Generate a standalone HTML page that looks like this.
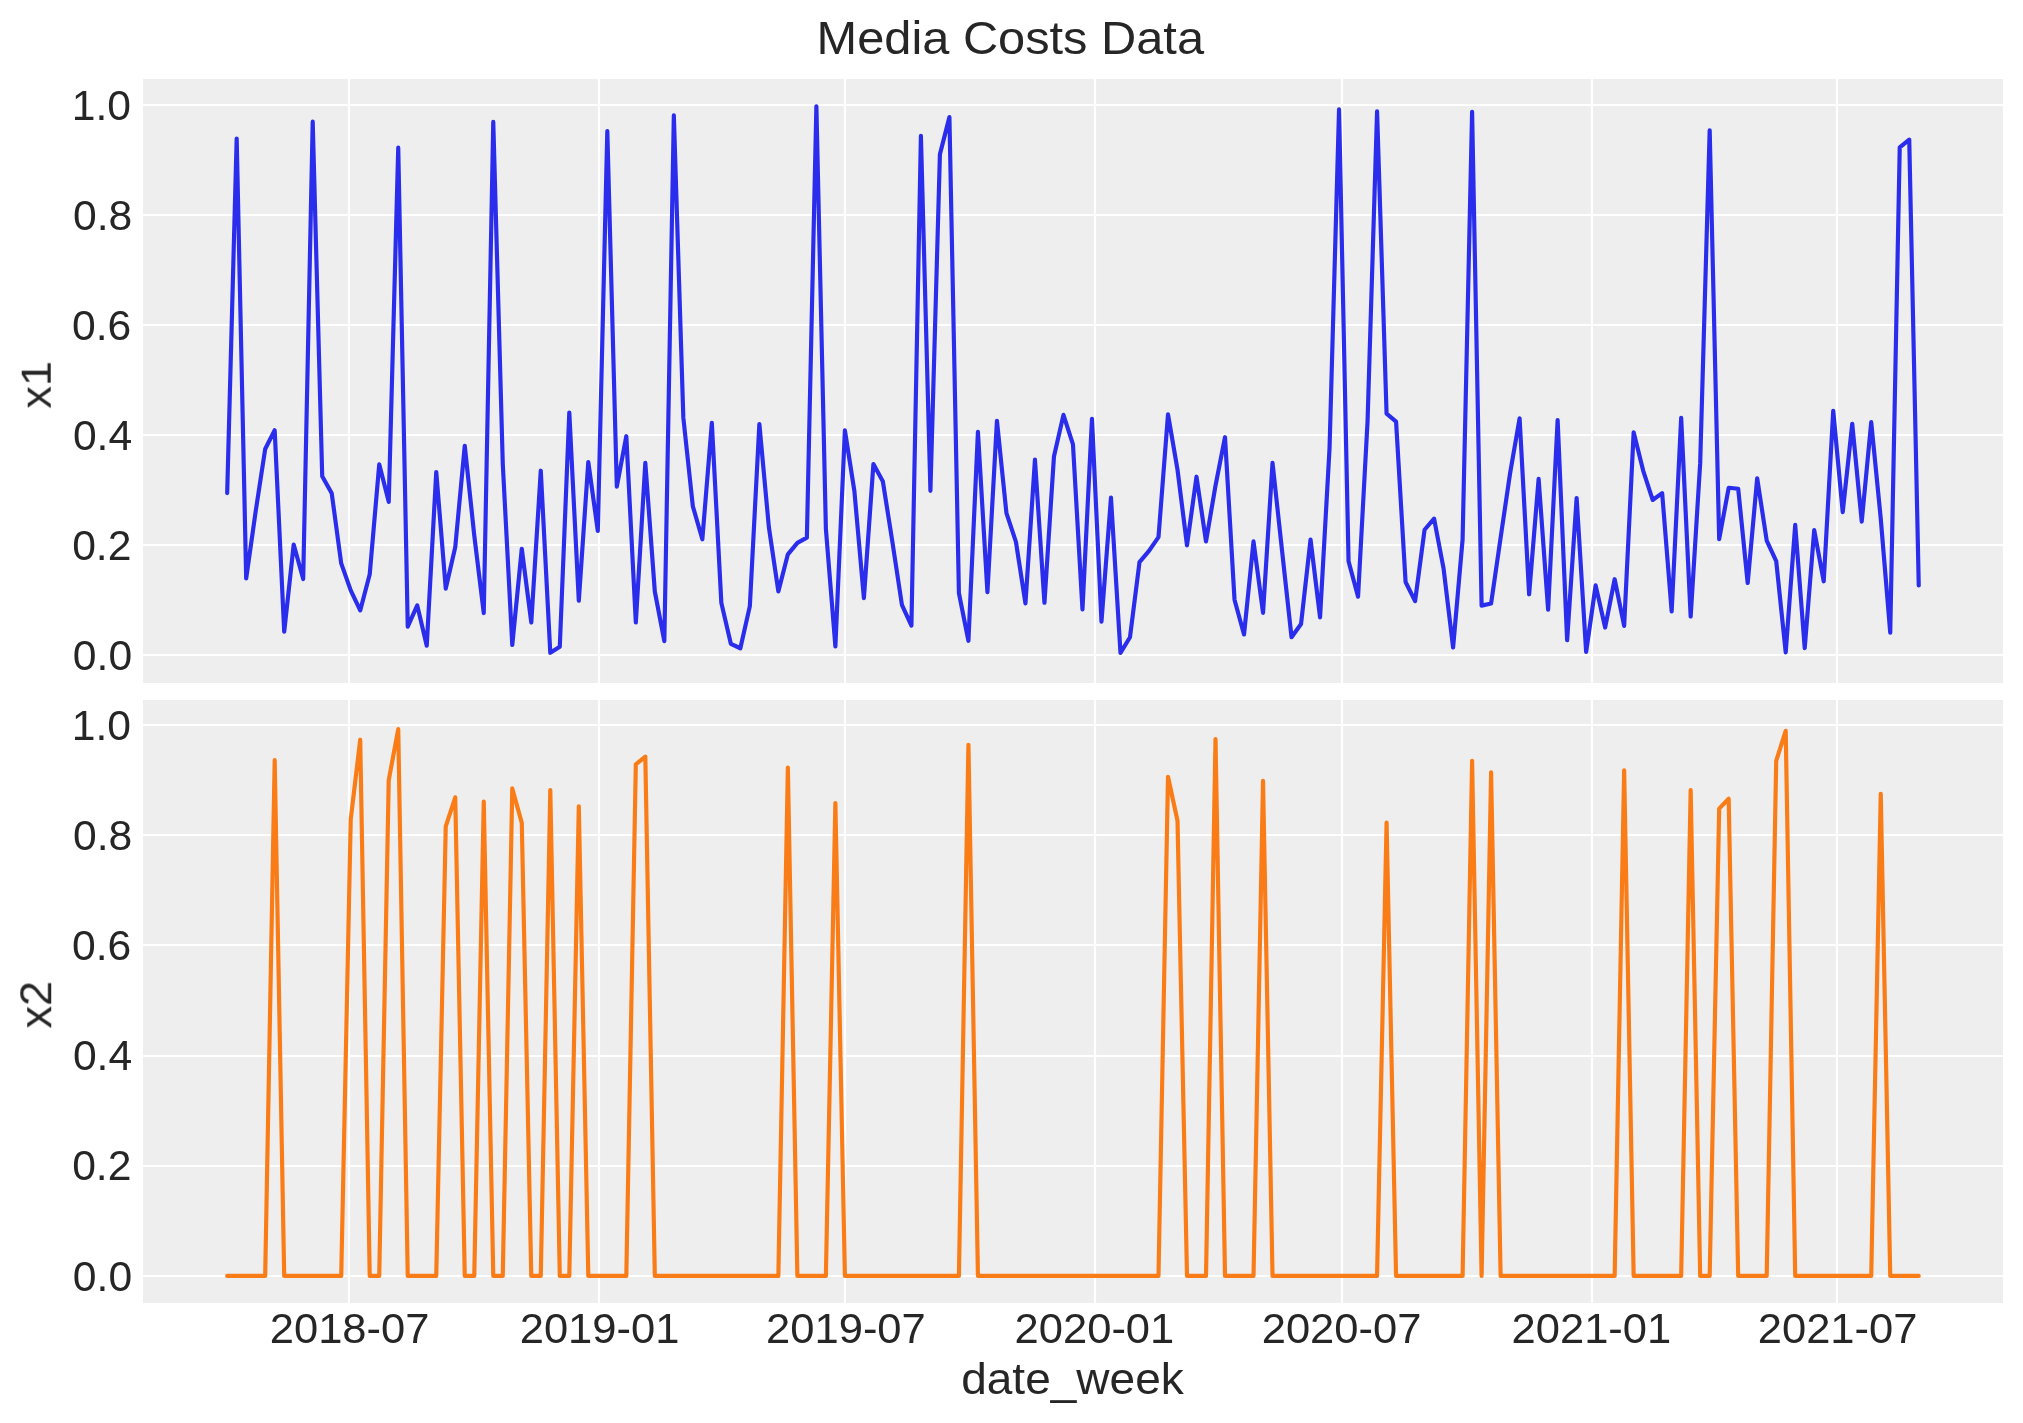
<!DOCTYPE html>
<html><head><meta charset="utf-8"><title>Media Costs Data</title>
<style>html,body{margin:0;padding:0;background:#fff;}svg{display:block;}text{font-family:"Liberation Sans",sans-serif;fill:#262626;}g.t{filter:grayscale(1);}</style>
</head><body>
<svg width="2023" height="1423" viewBox="0 0 2023 1423">
<rect x="0" y="0" width="2023" height="1423" fill="#ffffff"/>
<rect x="143" y="79" width="1860" height="604" fill="#eeeeee"/>
<rect x="143" y="700" width="1860" height="603" fill="#eeeeee"/>
<path d="M143 655H2003M143 545H2003M143 435H2003M143 325H2003M143 215H2003M143 105H2003M349 79V683M599 79V683M845 79V683M1095 79V683M1342 79V683M1592 79V683M1837 79V683M143 1276H2003M143 1166H2003M143 1056H2003M143 945H2003M143 835H2003M143 725H2003M349 700V1303M599 700V1303M845 700V1303M1095 700V1303M1342 700V1303M1592 700V1303M1837 700V1303" stroke="#ffffff" stroke-width="2.222" fill="none"/>
<polyline points="227.18,493.05 236.68,138.57 246.18,578.44 255.69,511.25 265.19,449.02 274.69,430.29 284.20,631.67 293.70,544.50 303.20,579.05 312.71,121.70 322.21,476.25 331.71,493.17 341.22,563.41 350.72,590.38 360.22,610.44 369.73,574.21 379.23,464.35 388.73,501.86 398.24,147.69 407.74,626.67 417.24,605.36 426.75,645.73 436.25,471.98 445.75,588.58 455.26,547.14 464.76,445.73 474.26,535.43 483.76,613.03 493.27,121.94 502.77,463.76 512.27,645.03 521.78,548.73 531.28,622.54 540.78,470.71 550.29,652.79 559.79,646.75 569.29,412.46 578.80,600.74 588.30,461.98 597.80,531.00 607.31,131.18 616.81,486.58 626.31,436.20 635.82,622.51 645.32,462.94 654.82,591.51 664.33,641.16 673.83,115.43 683.33,417.63 692.84,506.29 702.34,539.29 711.84,422.83 721.34,602.87 730.85,643.84 740.35,648.26 749.85,606.15 759.36,424.01 768.86,527.14 778.36,591.47 787.87,554.32 797.37,542.88 806.87,537.62 816.38,106.35 825.88,528.87 835.38,646.32 844.89,430.36 854.39,491.08 863.89,598.11 873.40,464.03 882.90,481.61 892.40,541.96 901.91,604.80 911.41,625.59 920.91,135.82 930.42,490.81 939.92,154.28 949.42,117.12 958.92,593.17 968.43,640.79 977.93,431.85 987.43,592.09 996.94,420.80 1006.44,513.15 1015.94,541.93 1025.45,603.44 1034.95,459.65 1044.45,602.77 1053.96,456.51 1063.46,414.86 1072.96,444.31 1082.47,609.41 1091.97,418.84 1101.47,621.66 1110.98,497.68 1120.48,652.93 1129.98,637.25 1139.49,562.18 1148.99,550.89 1158.49,537.10 1168.00,414.42 1177.50,469.62 1187.00,545.32 1196.50,476.70 1206.01,541.50 1215.51,485.55 1225.01,437.18 1234.52,599.71 1244.02,634.45 1253.52,541.41 1263.03,612.81 1272.53,462.90 1282.03,550.53 1291.54,637.26 1301.04,623.99 1310.54,539.58 1320.05,617.37 1329.55,448.20 1339.05,109.29 1348.56,561.32 1358.06,596.73 1367.56,421.07 1377.07,111.44 1386.57,413.72 1396.07,421.61 1405.58,581.97 1415.08,601.16 1424.58,529.73 1434.08,518.62 1443.59,568.67 1453.09,647.48 1462.59,539.47 1472.10,111.88 1481.60,605.62 1491.10,603.56 1500.61,537.74 1510.11,473.10 1519.61,418.26 1529.12,594.29 1538.62,478.95 1548.12,609.58 1557.63,420.17 1567.13,640.28 1576.63,497.97 1586.14,651.88 1595.64,585.41 1605.14,627.55 1614.65,579.23 1624.15,625.87 1633.65,432.31 1643.16,470.54 1652.66,499.98 1662.16,493.14 1671.66,611.32 1681.17,417.86 1690.67,616.53 1700.17,463.38 1709.68,130.27 1719.18,539.22 1728.68,487.76 1738.19,488.71 1747.69,583.01 1757.19,478.23 1766.70,540.56 1776.20,561.07 1785.70,652.35 1795.21,524.95 1804.71,648.09 1814.21,530.15 1823.72,581.30 1833.22,410.76 1842.72,512.10 1852.23,423.82 1861.73,521.62 1871.23,422.13 1880.74,518.48 1890.24,632.64 1899.74,147.30 1909.24,139.64 1918.75,585.52" fill="none" stroke="#2a2eec" stroke-width="4.1667" stroke-linejoin="round" stroke-linecap="round"/>
<polyline points="227.18,1275.90 236.68,1275.90 246.18,1275.90 255.69,1275.90 265.19,1275.90 274.69,759.98 284.20,1275.90 293.70,1275.90 303.20,1275.90 312.71,1275.90 322.21,1275.90 331.71,1275.90 341.22,1275.90 350.72,819.45 360.22,739.71 369.73,1275.90 379.23,1275.90 388.73,780.13 398.24,729.11 407.74,1275.90 417.24,1275.90 426.75,1275.90 436.25,1275.90 445.75,826.42 455.26,797.28 464.76,1275.90 474.26,1275.90 483.76,801.54 493.27,1275.90 502.77,1275.90 512.27,788.44 521.78,822.88 531.28,1275.90 540.78,1275.90 550.29,790.13 559.79,1275.90 569.29,1275.90 578.80,806.27 588.30,1275.90 597.80,1275.90 607.31,1275.90 616.81,1275.90 626.31,1275.90 635.82,764.29 645.32,756.67 654.82,1275.90 664.33,1275.90 673.83,1275.90 683.33,1275.90 692.84,1275.90 702.34,1275.90 711.84,1275.90 721.34,1275.90 730.85,1275.90 740.35,1275.90 749.85,1275.90 759.36,1275.90 768.86,1275.90 778.36,1275.90 787.87,767.66 797.37,1275.90 806.87,1275.90 816.38,1275.90 825.88,1275.90 835.38,803.00 844.89,1275.90 854.39,1275.90 863.89,1275.90 873.40,1275.90 882.90,1275.90 892.40,1275.90 901.91,1275.90 911.41,1275.90 920.91,1275.90 930.42,1275.90 939.92,1275.90 949.42,1275.90 958.92,1275.90 968.43,744.82 977.93,1275.90 987.43,1275.90 996.94,1275.90 1006.44,1275.90 1015.94,1275.90 1025.45,1275.90 1034.95,1275.90 1044.45,1275.90 1053.96,1275.90 1063.46,1275.90 1072.96,1275.90 1082.47,1275.90 1091.97,1275.90 1101.47,1275.90 1110.98,1275.90 1120.48,1275.90 1129.98,1275.90 1139.49,1275.90 1148.99,1275.90 1158.49,1275.90 1168.00,776.75 1177.50,820.73 1187.00,1275.90 1196.50,1275.90 1206.01,1275.90 1215.51,739.02 1225.01,1275.90 1234.52,1275.90 1244.02,1275.90 1253.52,1275.90 1263.03,780.76 1272.53,1275.90 1282.03,1275.90 1291.54,1275.90 1301.04,1275.90 1310.54,1275.90 1320.05,1275.90 1329.55,1275.90 1339.05,1275.90 1348.56,1275.90 1358.06,1275.90 1367.56,1275.90 1377.07,1275.90 1386.57,822.60 1396.07,1275.90 1405.58,1275.90 1415.08,1275.90 1424.58,1275.90 1434.08,1275.90 1443.59,1275.90 1453.09,1275.90 1462.59,1275.90 1472.10,760.91 1481.60,1275.90 1491.10,772.41 1500.61,1275.90 1510.11,1275.90 1519.61,1275.90 1529.12,1275.90 1538.62,1275.90 1548.12,1275.90 1557.63,1275.90 1567.13,1275.90 1576.63,1275.90 1586.14,1275.90 1595.64,1275.90 1605.14,1275.90 1614.65,1275.90 1624.15,770.39 1633.65,1275.90 1643.16,1275.90 1652.66,1275.90 1662.16,1275.90 1671.66,1275.90 1681.17,1275.90 1690.67,790.03 1700.17,1275.90 1709.68,1275.90 1719.18,808.61 1728.68,798.77 1738.19,1275.90 1747.69,1275.90 1757.19,1275.90 1766.70,1275.90 1776.20,760.91 1785.70,730.84 1795.21,1275.90 1804.71,1275.90 1814.21,1275.90 1823.72,1275.90 1833.22,1275.90 1842.72,1275.90 1852.23,1275.90 1861.73,1275.90 1871.23,1275.90 1880.74,793.72 1890.24,1275.90 1899.74,1275.90 1909.24,1275.90 1918.75,1275.90" fill="none" stroke="#fa7c17" stroke-width="4.1667" stroke-linejoin="round" stroke-linecap="round"/>
<g class="t">
<text transform="matrix(0.21335 0 0 0.21089 71.780 120.054)" font-size="200">1.0</text>
<text transform="matrix(0.21335 0 0 0.21089 71.780 740.054)" font-size="200">1.0</text>
<text transform="matrix(0.21335 0 0 0.21089 72.988 230.056)" font-size="200">0.8</text>
<text transform="matrix(0.21335 0 0 0.21089 72.988 850.056)" font-size="200">0.8</text>
<text transform="matrix(0.21335 0 0 0.21089 71.942 340.042)" font-size="200">0.6</text>
<text transform="matrix(0.21335 0 0 0.21089 71.942 960.042)" font-size="200">0.6</text>
<text transform="matrix(0.21335 0 0 0.21089 72.885 450.052)" font-size="200">0.4</text>
<text transform="matrix(0.21335 0 0 0.21089 72.885 1070.052)" font-size="200">0.4</text>
<text transform="matrix(0.21335 0 0 0.21089 72.148 560.043)" font-size="200">0.2</text>
<text transform="matrix(0.21335 0 0 0.21089 72.148 1180.043)" font-size="200">0.2</text>
<text transform="matrix(0.21335 0 0 0.21089 72.821 670.060)" font-size="200">0.0</text>
<text transform="matrix(0.21335 0 0 0.21089 72.821 1291.060)" font-size="200">0.0</text>
<text transform="matrix(0.21762 0 0 0.21098 269.757 1343.057)" font-size="200">2018-07</text>
<text transform="matrix(0.21762 0 0 0.21098 519.695 1343.067)" font-size="200">2019-01</text>
<text transform="matrix(0.21762 0 0 0.21098 766.068 1343.067)" font-size="200">2019-07</text>
<text transform="matrix(0.21762 0 0 0.21098 1014.568 1343.053)" font-size="200">2020-01</text>
<text transform="matrix(0.21762 0 0 0.21098 1261.695 1343.053)" font-size="200">2020-07</text>
<text transform="matrix(0.21762 0 0 0.21098 1511.522 1343.049)" font-size="200">2021-01</text>
<text transform="matrix(0.21762 0 0 0.21098 1757.757 1343.053)" font-size="200">2021-07</text>
<text transform="matrix(0.24380 0 0 0.23401 816.559 53.732)" font-size="200">Media Costs Data</text>
<text transform="matrix(0 -0.22576 0.21522 0 50.897 408.605)" font-size="200">x1</text>
<text transform="matrix(0 -0.22576 0.21857 0 50.779 1028.486)" font-size="200">x2</text>
<text transform="matrix(0.23014 0 0 0.21892 961.191 1393.903)" font-size="200">date_week</text>
</g>
</svg>
</body></html>
